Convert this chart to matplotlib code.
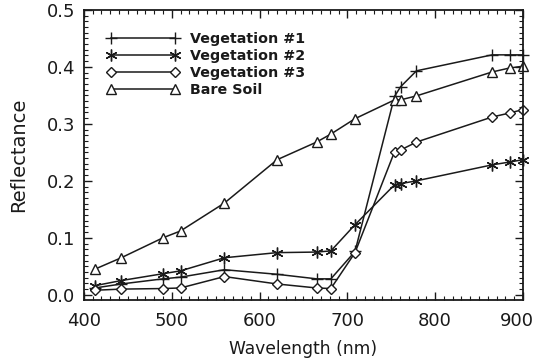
import matplotlib
matplotlib.use("Agg")
import matplotlib.pyplot as plt
from matplotlib.ticker import MultipleLocator, FormatStrFormatter
from matplotlib.transforms import ScaledTranslation

# MERIS band centres (nm)
wavelength = [412.5, 442.5, 490, 510, 560, 620, 665, 681.25, 708.75,
              753.75, 760.625, 778.75, 865, 885, 900]

veg1 = [0.012, 0.019, 0.028, 0.031, 0.044, 0.036, 0.028, 0.028, 0.076,
        0.348, 0.365, 0.393, 0.421, 0.421, 0.421]
veg2 = [0.016, 0.025, 0.037, 0.042, 0.065, 0.074, 0.075, 0.077, 0.123,
        0.193, 0.195, 0.200, 0.228, 0.233, 0.237]
veg3 = [0.008, 0.010, 0.011, 0.012, 0.032, 0.019, 0.012, 0.011, 0.074,
        0.251, 0.254, 0.268, 0.312, 0.319, 0.325]
soil = [0.045, 0.065, 0.100, 0.112, 0.161, 0.237, 0.268, 0.282, 0.309,
        0.342, 0.342, 0.349, 0.391, 0.398, 0.401]

labels = ["Vegetation #1", "Vegetation #2", "Vegetation #3", "Bare Soil"]
xticks = [400, 500, 600, 700, 800, 900]

plt.rcParams["font.family"] = ["DejaVu Sans"]

fig = plt.figure(figsize=(5.38, 3.64), dpi=100)
ax = fig.add_axes([0.156, 0.176, 0.816, 0.797])

ink = "#1a1a1a"
lw = 1.1
ax.plot(wavelength, veg1, color=ink, lw=lw, marker="+", ms=8.5, mew=1.0,
        label=labels[0], clip_on=False)
ax.plot(wavelength, veg2, color=ink, lw=lw, marker=(6, 2, 0), ms=8.5, mew=1.0,
        label=labels[1], clip_on=False)
ax.plot(wavelength, veg3, color=ink, lw=lw, marker="D", ms=5.5, mew=1.0,
        mfc="white", label=labels[2], clip_on=False)
ax.plot(wavelength, soil, color=ink, lw=lw, marker="^", ms=7, mew=1.0,
        mfc="white", label=labels[3], clip_on=False)

ax.set_xlim(400, 900)
ax.set_ylim(-0.009, 0.5)
ax.set_xticks(xticks, [str(t) for t in xticks])
ax.xaxis.set_minor_locator(MultipleLocator(10))
ax.yaxis.set_major_locator(MultipleLocator(0.1))
ax.yaxis.set_minor_locator(MultipleLocator(0.01))
ax.yaxis.set_major_formatter(FormatStrFormatter("%.1f"))

ax.tick_params(which="both", direction="in", top=True, right=True,
               color=ink, labelsize=13, labelcolor=ink)
ax.tick_params(which="major", length=6, width=1.0)
ax.tick_params(which="minor", length=3, width=0.8)
ax.tick_params(axis="x", which="major", pad=9)
ax.tick_params(axis="y", which="major", pad=6)
for s in ax.spines.values():
    s.set_linewidth(1.3)
    s.set_color(ink)

# nudge the right-most tick label so it stays inside the figure
last_tick = ax.xaxis.get_major_ticks()[-1]
last_tick.label1.set_transform(last_tick.label1.get_transform()
                               + ScaledTranslation(-6 / 100, 0,
                                                   fig.dpi_scale_trans))

ax.set_xlabel("Wavelength (nm)", fontsize=12.3, color=ink, labelpad=7)
ax.set_ylabel("Reflectance", fontsize=14, color=ink)
ax.yaxis.set_label_coords(-0.128, 0.5)

leg = ax.legend(loc="upper left", bbox_to_anchor=(0.039, 0.942), frameon=False,
                numpoints=2, handlelength=5.1, handletextpad=0.7,
                labelspacing=0.2, borderaxespad=0.0,
                prop={"size": 10.3, "weight": "bold"})
for t in leg.get_texts():
    t.set_color(ink)

fig.savefig("out.png", dpi=100)
